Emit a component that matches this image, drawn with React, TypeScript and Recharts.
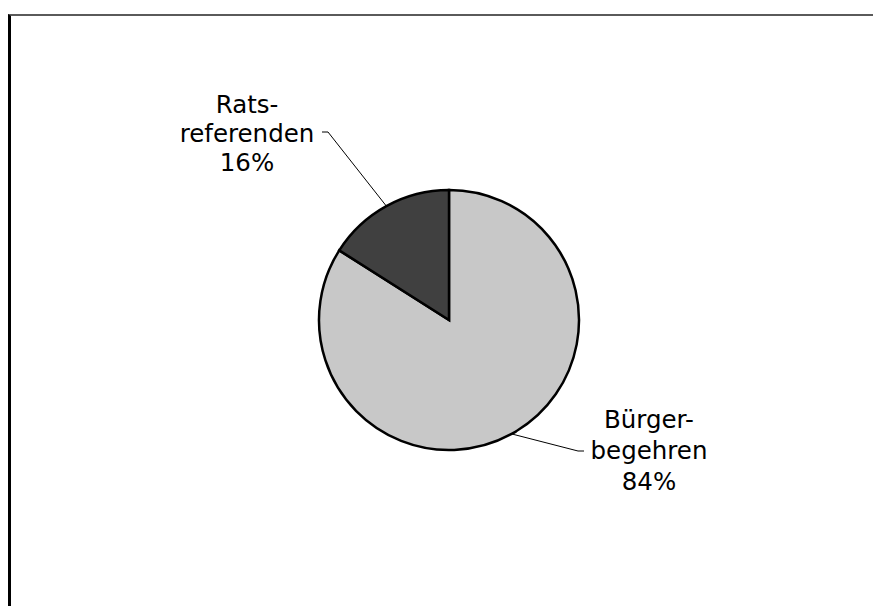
import React from "react";
import { PieChart, Pie, Cell } from "recharts";

// Share of local referendums by initiator
const categoryLines = [
  ["Bürger-", "begehren"],
  ["Rats-", "referenden"],
];
const categoryNames = ["Bürgerbegehren", "Ratsreferenden"];
const shares = [84, 16];
const sliceColors = ["#c8c8c8", "#404040"];

const data = categoryNames.map((name, i) => ({ name, value: shares[i], lines: categoryLines[i] }));

// Label block placement relative to the pie centre (text centre x, first baseline y, line height,
// leader elbow and leader end)
const LABEL_LAYOUT = [
  { tx: 200, ty: 108, lh: 31, elbow: [129, 131], end: [135, 131] },
  { tx: -202, ty: -207, lh: 29, elbow: [-121, -188], end: [-127, -188] },
];

const RAD = Math.PI / 180;
const FONT = "'DejaVu Sans', Verdana, sans-serif";

const renderLabel = (props: any) => {
  const { cx, cy, midAngle, outerRadius, index, payload, value } = props;
  const layout = LABEL_LAYOUT[index];
  const ex = cx + outerRadius * Math.cos(-midAngle * RAD);
  const ey = cy + outerRadius * Math.sin(-midAngle * RAD);
  const lines: string[] = [...(payload.lines || payload.payload?.lines || []), `${value}%`];
  return (
    <g>
      <polyline
        points={`${ex},${ey} ${cx + layout.elbow[0]},${cy + layout.elbow[1]} ${cx + layout.end[0]},${cy + layout.end[1]}`}
        fill="none"
        stroke="#000"
        strokeWidth={1}
      />
      <text
        x={cx + layout.tx}
        y={cy + layout.ty}
        textAnchor="middle"
        fontFamily={FONT}
        fontSize={24.5}
        fill="#000"
      >
        {lines.map((line, i) => (
          <tspan key={i} x={cx + layout.tx} y={cy + layout.ty + i * layout.lh}>
            {line}
          </tspan>
        ))}
      </text>
    </g>
  );
};

export default function App() {
  return (
    <div
      style={{
        position: "fixed",
        left: 8,
        top: 14,
        width: 865,
        height: 600,
        borderTop: "2px solid #5a5a5a",
        borderLeft: "3px solid #000",
        background: "#fff",
      }}
    >
      <PieChart width={862} height={590} margin={{ top: 0, right: 0, bottom: 0, left: 0 }}>
        <Pie
          data={data}
          dataKey="value"
          nameKey="name"
          cx={438}
          cy={304}
          outerRadius={130}
          startAngle={90}
          endAngle={-270}
          stroke="#000"
          strokeWidth={2.5}
          label={renderLabel}
          labelLine={false}
          isAnimationActive={false}
        >
          {data.map((d, i) => (
            <Cell key={d.name} fill={sliceColors[i]} stroke="#000" strokeWidth={2.5} />
          ))}
        </Pie>
      </PieChart>
    </div>
  );
}
